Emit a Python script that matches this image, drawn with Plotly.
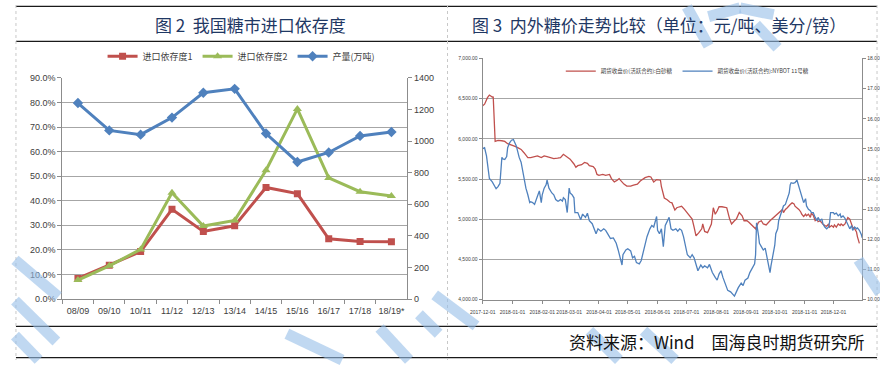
import plotly.graph_objects as go

W, H = 880, 365

# ---------------- data: left chart ----------------
seasons = ["08/09", "09/10", "10/11", "11/12", "12/13", "13/14", "14/15", "15/16", "16/17", "17/18", "18/19*"]
dep1 = [0.084, 0.137, 0.193, 0.365, 0.275, 0.298, 0.454, 0.429, 0.245, 0.234, 0.233]
dep2 = [0.077, 0.135, 0.202, 0.433, 0.297, 0.320, 0.524, 0.774, 0.493, 0.437, 0.419]
output = [1241, 1068, 1041, 1149, 1306, 1331, 1048, 868, 928, 1033, 1058]

# ---------------- data: right chart ----------------
red_dates = [
    "2017-12-01", "2017-12-03", "2017-12-06", "2017-12-08", "2017-12-11", "2017-12-12", "2017-12-14", "2017-12-17",
    "2017-12-21", "2017-12-24", "2017-12-27", "2017-12-31",
    "2018-01-03", "2018-01-07", "2018-01-10", "2018-01-13", "2018-01-17", "2018-01-20", "2018-01-24", "2018-01-27", "2018-01-31",
    "2018-02-03", "2018-02-06", "2018-02-10", "2018-02-13", "2018-02-17", "2018-02-20", "2018-02-23", "2018-02-27",
    "2018-03-02", "2018-03-06", "2018-03-08", "2018-03-10", "2018-03-14", "2018-03-17", "2018-03-20", "2018-03-22",
    "2018-03-26", "2018-03-28", "2018-03-30",
    "2018-04-01", "2018-04-05", "2018-04-08", "2018-04-12", "2018-04-14", "2018-04-17", "2018-04-20", "2018-04-22",
    "2018-04-24", "2018-04-27", "2018-04-30",
    "2018-05-04", "2018-05-07", "2018-05-11", "2018-05-14", "2018-05-16", "2018-05-19", "2018-05-23", "2018-05-25",
    "2018-05-28", "2018-05-31",
    "2018-06-04", "2018-06-05", "2018-06-08", "2018-06-11", "2018-06-14", "2018-06-16", "2018-06-19", "2018-06-21",
    "2018-06-24", "2018-06-26", "2018-06-29",
    "2018-07-01", "2018-07-04", "2018-07-07", "2018-07-09", "2018-07-11", "2018-07-14", "2018-07-17", "2018-07-18",
    "2018-07-20", "2018-07-23", "2018-07-25", "2018-07-27", "2018-07-29", "2018-07-31",
    "2018-08-02", "2018-08-04", "2018-08-07", "2018-08-10", "2018-08-12", "2018-08-15", "2018-08-17", "2018-08-20",
    "2018-08-22", "2018-08-25", "2018-08-28", "2018-08-30",
    "2018-09-02", "2018-09-04", "2018-09-07", "2018-09-10", "2018-09-11", "2018-09-14", "2018-09-17", "2018-09-19",
    "2018-09-22", "2018-09-26", "2018-09-28", "2018-09-30",
    "2018-10-02", "2018-10-04", "2018-10-05", "2018-10-07", "2018-10-09", "2018-10-10", "2018-10-12", "2018-10-14",
    "2018-10-16", "2018-10-17", "2018-10-19", "2018-10-21", "2018-10-22", "2018-10-24", "2018-10-26", "2018-10-28",
    "2018-10-29", "2018-10-31",
    "2018-11-02", "2018-11-03", "2018-11-05", "2018-11-07", "2018-11-08", "2018-11-10", "2018-11-12", "2018-11-14",
    "2018-11-15", "2018-11-17", "2018-11-19", "2018-11-20", "2018-11-22", "2018-11-24", "2018-11-26", "2018-11-27",
    "2018-11-29",
    "2018-12-01", "2018-12-02", "2018-12-04", "2018-12-06", "2018-12-08", "2018-12-09", "2018-12-11", "2018-12-13",
    "2018-12-14", "2018-12-16", "2018-12-18", "2018-12-20", "2018-12-21", "2018-12-23", "2018-12-25", "2018-12-26",
    "2018-12-28",
]
red_vals = [
    6412, 6432, 6513, 6545, 6521, 6520, 5969, 5981, 5977, 5969, 5941, 5917,
    5909, 5888, 5869, 5828, 5767, 5767, 5779, 5788, 5767,
    5788, 5779, 5767, 5755, 5760, 5767, 5808, 5779,
    5748, 5688, 5647, 5667, 5679, 5707, 5695, 5667, 5655, 5627, 5558,
    5546, 5558, 5546, 5558, 5506, 5465, 5486, 5506, 5477, 5438, 5413,
    5413, 5425, 5438, 5477, 5494, 5518, 5534, 5526, 5465, 5494,
    5486, 5405, 5265, 5244, 5212, 5204, 5115, 5144, 5156, 5163, 5123,
    5091, 5051, 5003, 4902, 4794, 4834, 4882, 4942, 4849, 4834, 4882, 4942, 5144, 5063,
    5103, 5156, 5156, 5144, 5144, 5003, 4942, 4982, 5003, 5084, 5043, 4982,
    4982, 4963, 4930, 4902, 4882, 4963, 4982, 4942, 4930, 4982, 5003, 5023,
    5043, 5063, 5084, 5103, 5123, 5084, 5123, 5144, 5163, 5184, 5204, 5192, 5163, 5144, 5123, 5091, 5063, 5035,
    5063, 5043, 5063, 5023, 5075, 5051, 4982, 5003, 4970, 4982, 4963, 4942, 4922, 4914, 4942, 4902, 4922,
    4902, 4930, 4902, 4942, 4922, 4942, 4922, 4942, 4970, 5023, 5003, 4942, 4902, 4882, 4842, 4782, 4701,
]

blue_dates = [
    "2017-12-01", "2017-12-03", "2017-12-05", "2017-12-07", "2017-12-08", "2017-12-11", "2017-12-14", "2017-12-15",
    "2017-12-17", "2017-12-19", "2017-12-21", "2017-12-22", "2017-12-24", "2017-12-26", "2017-12-27", "2017-12-29",
    "2017-12-31",
    "2018-01-02", "2018-01-05", "2018-01-07", "2018-01-08", "2018-01-10", "2018-01-12", "2018-01-13", "2018-01-15",
    "2018-01-17", "2018-01-19", "2018-01-20", "2018-01-22", "2018-01-24", "2018-01-25", "2018-01-27", "2018-01-29",
    "2018-01-31",
    "2018-02-01", "2018-02-03", "2018-02-05", "2018-02-06", "2018-02-08", "2018-02-10", "2018-02-11", "2018-02-13",
    "2018-02-15", "2018-02-17", "2018-02-18", "2018-02-20", "2018-02-22", "2018-02-23", "2018-02-25", "2018-02-27",
    "2018-03-01", "2018-03-02", "2018-03-04", "2018-03-06", "2018-03-07", "2018-03-10", "2018-03-13", "2018-03-15",
    "2018-03-18", "2018-03-20", "2018-03-22", "2018-03-25", "2018-03-27", "2018-03-29", "2018-03-31",
    "2018-04-03", "2018-04-06", "2018-04-08", "2018-04-10", "2018-04-13", "2018-04-16", "2018-04-19", "2018-04-21",
    "2018-04-23", "2018-04-25", "2018-04-26", "2018-04-29",
    "2018-05-01", "2018-05-04", "2018-05-06", "2018-05-08", "2018-05-10", "2018-05-13", "2018-05-15", "2018-05-17",
    "2018-05-19", "2018-05-21", "2018-05-24", "2018-05-26", "2018-05-28", "2018-05-31",
    "2018-06-01", "2018-06-03", "2018-06-05", "2018-06-07", "2018-06-09", "2018-06-11", "2018-06-13", "2018-06-15",
    "2018-06-17", "2018-06-20", "2018-06-22", "2018-06-24", "2018-06-26", "2018-06-28", "2018-06-30",
    "2018-07-02", "2018-07-05", "2018-07-07", "2018-07-09", "2018-07-11", "2018-07-13", "2018-07-16", "2018-07-18",
    "2018-07-20", "2018-07-23", "2018-07-25", "2018-07-28", "2018-07-31",
    "2018-08-02", "2018-08-04", "2018-08-06", "2018-08-08", "2018-08-11", "2018-08-13", "2018-08-16", "2018-08-18",
    "2018-08-20", "2018-08-22", "2018-08-24", "2018-08-27", "2018-08-29", "2018-08-31",
    "2018-09-03", "2018-09-05", "2018-09-08", "2018-09-10", "2018-09-11", "2018-09-12", "2018-09-14", "2018-09-15",
    "2018-09-17", "2018-09-19", "2018-09-21", "2018-09-23", "2018-09-25", "2018-09-26", "2018-09-27", "2018-09-29",
    "2018-10-01", "2018-10-02", "2018-10-04", "2018-10-05", "2018-10-07", "2018-10-09", "2018-10-10", "2018-10-12",
    "2018-10-14", "2018-10-16", "2018-10-17", "2018-10-18", "2018-10-20", "2018-10-22", "2018-10-24", "2018-10-26",
    "2018-10-28", "2018-10-29", "2018-10-31",
    "2018-11-02", "2018-11-03", "2018-11-05", "2018-11-07", "2018-11-08", "2018-11-10", "2018-11-12", "2018-11-14",
    "2018-11-15", "2018-11-17", "2018-11-19", "2018-11-20", "2018-11-22", "2018-11-24", "2018-11-26", "2018-11-27",
    "2018-11-28",
    "2018-12-01", "2018-12-02", "2018-12-04", "2018-12-06", "2018-12-08", "2018-12-09", "2018-12-11", "2018-12-13",
    "2018-12-14", "2018-12-16", "2018-12-18", "2018-12-20", "2018-12-21", "2018-12-23", "2018-12-25", "2018-12-26",
    "2018-12-28", "2018-12-30", "2018-12-31",
]
blue_vals = [
    15.01, 15.04, 14.77, 14.13, 14.02, 13.91, 13.75, 13.68, 13.75, 13.86, 14.72, 14.67, 14.65, 14.75, 15.04, 15.20, 15.29,
    15.31, 15.10, 14.83, 14.72, 14.56, 14.18, 13.97, 13.70, 13.48, 13.22, 13.25, 13.22, 13.16, 13.27, 13.43, 13.61, 13.22,
    13.48, 13.70, 13.81, 13.97, 13.70, 13.59, 13.54, 13.48, 13.32, 13.27, 13.27, 13.32, 13.27, 13.38, 13.32, 12.89,
    13.70, 13.54, 13.48, 13.38, 12.89, 12.89, 12.65, 12.84, 12.73, 12.87, 12.62, 12.52, 12.35, 12.19, 12.35,
    12.27, 12.35, 12.30, 12.19, 12.03, 12.05, 11.87, 11.65, 11.44, 11.15, 11.49, 11.65,
    11.69, 11.62, 11.39, 11.44, 11.23, 11.19, 11.30, 11.55, 11.76, 12.09, 12.35, 12.46, 12.41, 12.76,
    12.30, 12.19, 12.35, 11.76, 12.46, 12.62, 12.73, 12.35, 12.30, 12.35, 12.27, 12.35, 12.30, 12.09, 11.82,
    11.49, 11.39, 11.49, 11.39, 11.19, 10.96, 11.15, 11.06, 11.12, 11.06, 11.17, 10.90, 10.74,
    10.65, 10.85, 10.96, 10.74, 10.47, 10.31, 10.26, 10.20, 10.12, 10.26, 10.40, 10.55, 10.47, 10.65,
    10.72, 10.90, 11.06, 11.19, 11.49, 12.55, 12.14, 11.87, 11.76, 11.65, 11.71, 11.33, 11.06, 10.90, 11.12, 11.49,
    11.82, 12.19, 12.35, 12.62, 12.84, 13.00, 13.11, 13.16, 13.32, 13.54, 13.81, 13.88, 13.86, 13.88, 13.97, 13.75,
    13.59, 13.43, 13.22,
    13.35, 13.11, 13.00, 12.95, 12.89, 12.89, 12.73, 12.62, 12.73, 12.62, 12.68, 12.52, 12.41, 12.35, 12.41, 12.57, 12.89,
    12.89, 12.84, 12.87, 12.78, 12.84, 12.73, 12.78, 12.70, 12.62, 12.52, 12.35, 12.46, 12.30, 12.41, 12.35, 12.38,
    12.30, 12.16, 12.05,
]

# ---------------- style ----------------
RED = "#C0504D"
GREEN = "#9BBB59"
BLUE = "#4F81BD"
GRID = "#A6A6A6"
AXIS = "#8C8C8C"
TXT = "#404040"
NUMF = "Liberation Sans, Arial, sans-serif"
CJK = "Noto Sans CJK SC, sans-serif"


def px(x):
    return x / W


def py(y):
    return 1 - y / H


fig = go.Figure()

# left chart traces
fig.add_trace(go.Scatter(x=seasons, y=dep1, name="进口依存度1", mode="lines+markers",
                         line=dict(color=RED, width=3), marker=dict(symbol="square", size=7, color=RED),
                         xaxis="x", yaxis="y", legend="legend"))
fig.add_trace(go.Scatter(x=seasons, y=dep2, name="进口依存度2", mode="lines+markers",
                         line=dict(color=GREEN, width=3), marker=dict(symbol="triangle-up", size=8, color=GREEN),
                         xaxis="x", yaxis="y", legend="legend"))
fig.add_trace(go.Scatter(x=seasons, y=output, name="产量(万吨)", mode="lines+markers",
                         line=dict(color=BLUE, width=3), marker=dict(symbol="diamond", size=8, color=BLUE),
                         xaxis="x", yaxis="y2", legend="legend"))

# right chart traces
fig.add_trace(go.Scatter(x=red_dates, y=red_vals, name="期货收盘价(活跃合约):白砂糖", mode="lines",
                         line=dict(color=RED, width=1.3), xaxis="x2", yaxis="y3", legend="legend2"))
fig.add_trace(go.Scatter(x=blue_dates, y=blue_vals, name="期货收盘价(活跃合约):NYBOT 11号糖", mode="lines",
                         line=dict(color=BLUE, width=1.3), xaxis="x2", yaxis="y4", legend="legend2"))

# frame lines & decorative watermark
shapes = []
for yy in (1.5, 37.5, 330.5, 362.5):
    shapes.append(dict(type="line", xref="paper", yref="paper", x0=px(3), x1=px(877), y0=py(yy), y1=py(yy),
                       line=dict(color="#1A1A1A", width=1.3), layer="above"))
for xx in (3, 441, 877):
    shapes.append(dict(type="line", xref="paper", yref="paper", x0=px(xx), x1=px(xx), y0=py(0), y1=py(365),
                       line=dict(color="#C8C8C8", width=1, dash="dot"), layer="above"))
wm = "rgba(150,190,232,0.6)"
strokes = [
    (684, 2, 706, 42), (706, 12, 738, 3), (738, 3, 772, 10), (754, 20, 776, 44),
    (2, 262, 46, 300), (2, 304, 44, 346), (2, 340, 26, 365),
    (278, 338, 334, 365), (372, 332, 402, 365), (412, 318, 432, 338), (428, 298, 470, 330),
    (585, 335, 615, 365), (640, 335, 672, 365), (858, 262, 880, 296),
]
for (x0, y0, x1, y1) in strokes:
    shapes.append(dict(type="line", xref="paper", yref="paper", x0=px(x0), x1=px(x1), y0=py(y0), y1=py(y1),
                       line=dict(color=wm, width=11), layer="above"))

annotations = [
    dict(text="图 2  我国糖市进口依存度", x=px(241), y=py(20), xref="paper", yref="paper", showarrow=False,
         xanchor="center", yanchor="middle", font=dict(family=CJK, size=17, color="#1F3864")),
    dict(text="图 3  内外糖价走势比较（单位：元/吨、美分/镑）", x=px(656), y=py(20), xref="paper", yref="paper",
         showarrow=False, xanchor="center", yanchor="middle", font=dict(family=CJK, size=17, color="#1F3864")),
    dict(text="资料来源：Wind　国海良时期货研究所", x=px(867), y=py(346), xref="paper", yref="paper",
         showarrow=False, xanchor="right", yanchor="middle", font=dict(family=CJK, size=17, color="#111111")),
]

fig.update_layout(
    width=W, height=H, margin=dict(l=0, r=0, t=0, b=0),
    paper_bgcolor="white", plot_bgcolor="rgba(0,0,0,0)",
    shapes=shapes, annotations=annotations,
    xaxis=dict(domain=[px(50), px(400)], anchor="y", type="category", range=[-0.5, 10.5],
               tickson="boundaries", ticks="outside", ticklen=4, tickcolor=AXIS, tickangle=0,
               showline=True, linecolor=AXIS, showgrid=False, ticklabelstandoff=3,
               tickfont=dict(family=NUMF, size=9, color=TXT)),
    yaxis=dict(domain=[py(302.3), py(75)], anchor="x", range=[0, 0.9], dtick=0.1, tickformat=".1%",
               showgrid=True, gridcolor=GRID, gridwidth=1, zeroline=False,
               showline=True, linecolor=AXIS, ticks="outside", ticklen=4, tickcolor=AXIS,
               tickfont=dict(family=NUMF, size=9, color=TXT)),
    yaxis2=dict(overlaying="y", side="right", anchor="x", range=[0, 1400], dtick=200,
                showgrid=False, zeroline=False, showline=True, linecolor=AXIS,
                ticks="outside", ticklen=4, tickcolor=AXIS,
                tickfont=dict(family=NUMF, size=9, color=TXT)),
    xaxis2=dict(domain=[px(476.7), px(862)], anchor="y3", type="date",
                range=["2017-12-01", "2018-12-31"], tick0="2017-12-01", dtick="M1", tickformat="%Y-%m-%d",
                ticks="outside", ticklen=3, tickcolor=AXIS, tickangle=0, showline=True, linecolor=AXIS,
                showgrid=False, ticklabelstandoff=4, tickfont=dict(family=NUMF, size=5, color=TXT)),
    yaxis3=dict(domain=[py(303), py(55)], anchor="x2", range=[4000, 7000], dtick=500, tickformat=",.2f",
                showgrid=True, gridcolor=GRID, gridwidth=1.3, zeroline=False,
                showline=True, linecolor=AXIS, ticks="outside", ticklen=3, tickcolor=AXIS,
                tickfont=dict(family=NUMF, size=5, color=TXT)),
    yaxis4=dict(overlaying="y3", side="right", anchor="x2", range=[10, 18], dtick=1, tickformat=".2f",
                showgrid=False, zeroline=False, showline=True, linecolor=AXIS,
                ticks="outside", ticklen=3, tickcolor=AXIS,
                tickfont=dict(family=NUMF, size=5, color=TXT)),
    legend=dict(orientation="h", x=px(232), y=py(52.7), xanchor="center", yanchor="middle",
                bgcolor="rgba(0,0,0,0)", font=dict(family=CJK, size=9, color=TXT),
                itemwidth=30, tracegroupgap=0),
    legend2=dict(orientation="h", x=px(556), y=py(68), xanchor="left", yanchor="middle",
                 bgcolor="rgba(0,0,0,0)", font=dict(family=CJK, size=5.5, color=TXT),
                 itemwidth=30, tracegroupgap=0),
    showlegend=True,
)

fig.write_html("out.html", config={"displayModeBar": False},
               post_script="document.body.style.margin='0';document.body.style.overflow='hidden';")
